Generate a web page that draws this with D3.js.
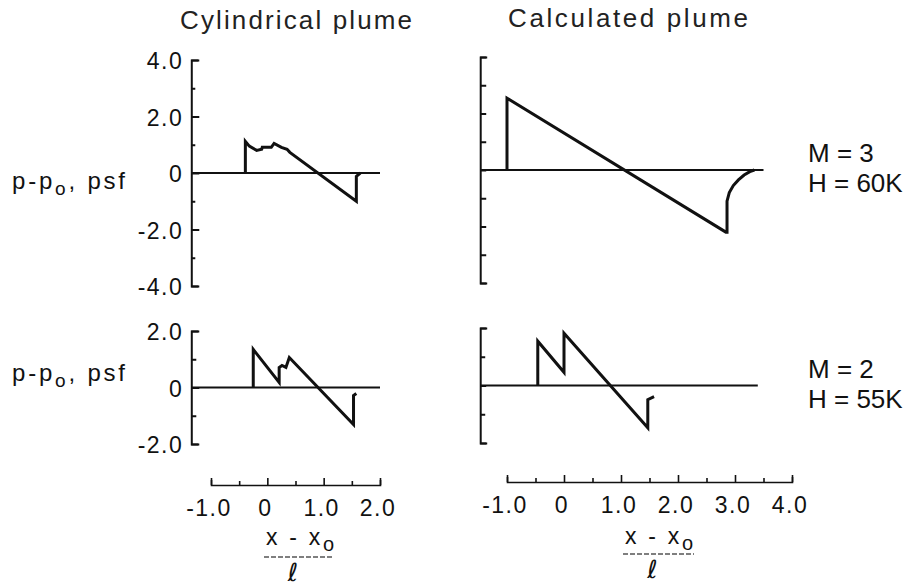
<!DOCTYPE html>
<html>
<head>
<meta charset="utf-8">
<script src="https://cdn.jsdelivr.net/npm/d3@7"></script>
<style>
body { margin: 0; background: #fff; }
svg { display: block; font-family: "Liberation Sans", Arial, sans-serif; }
</style>
</head>
<body>
<div id="chart"></div>
<script>
// panel titles and flight conditions
const titles = ["Cylindrical plume", "Calculated plume"];
const conditionsTop = ["M = 3", "H = 60K"];
const conditionsBottom = ["M = 2", "H = 55K"];

// y ticks
const yMajorTop = [-4, -2, 0, 2, 4];
const yMinorTop = [-3, -1, 1, 3];
const yLabelsTop = ["-4.0", "-2.0", "0", "2.0", "4.0"];
const yMajorBottom = [-2, 0, 2];
const yMinorBottom = [-1, 1];
const yLabelsBottom = ["-2.0", "0", "2.0"];

// x ticks
const xMajorLeft = [-1, 0, 1, 2];
const xMinorLeft = [-0.5, 0.5, 1.5];
const xLabelsLeft = ["-1.0", "0", "1.0", "2.0"];
const xMajorRight = [-1, 0, 1, 2, 3, 4];
const xMinorRight = [-0.5, 0.5, 1.5, 2.5, 3.5];
const xLabelsRight = ["-1.0", "0", "1.0", "2.0", "3.0", "4.0"];

// pressure signatures [(x - x0)/l, p - p0 (psf)]
const cylM3 = [[-0.39, 0], [-0.39, 1.12], [-0.32, 0.95], [-0.19, 0.80], [-0.1, 0.84], [-0.09, 0.91],
  [0.07, 0.91], [0.12, 1.05], [0.25, 0.91], [0.35, 0.84], [0.4, 0.73], [1.58, -1.0], [1.58, -0.12], [1.65, 0]];
const calcM3 = [[-1.0, 0], [-1.0, 2.54], [2.84, -2.2], [2.86, -2.2], [2.86, -1.1], [2.9, -0.8], [2.97, -0.55],
  [3.06, -0.35], [3.16, -0.18], [3.26, -0.06], [3.34, 0]];
const cylM2 = [[-0.25, 0], [-0.25, 1.35], [0.21, 0.18], [0.21, 0.71], [0.26, 0.78], [0.33, 0.71], [0.39, 1.06],
  [1.53, -1.31], [1.53, -0.28], [1.58, -0.21]];
const calcM2 = [[-0.46, 0], [-0.46, 1.54], [0.0, 0.46], [0.0, 1.82], [1.47, -1.47], [1.47, -0.49], [1.58, -0.39]];

// where the zero line stops for each panel
const zeroEnds = [2.0, 3.5, 2.0, 3.4];

const ink = '#111';
const fontSans = '"Liberation Sans", Arial, sans-serif';
const svg = d3.select('#chart').append('svg')
  .attr('width', 915)
  .attr('height', 587);

const xLeft = d3.scaleLinear().domain([-1, 2]).range([211, 380]);
const xRight = d3.scaleLinear().domain([-1, 4]).range([507, 792]);
const yTL = d3.scaleLinear().domain([-4, 4]).range([286, 60]);
const yTR = d3.scaleLinear().domain([-4, 4]).range([283, 57]);
const yBL = d3.scaleLinear().domain([-2, 2]).range([444, 331]);
const yBR = d3.scaleLinear().domain([-2, 2]).range([443, 328]);
// the vertical axes sit a bit left of the first x tick
const yAxisLeftAt = -1.35, yAxisRightAt = -1.47;

function styleAxis(g, w) {
  g.selectAll('path, line').attr('stroke', ink).attr('stroke-width', w);
}

function drawYAxis(x, at, y, major, minor, majorLen, minorLen, labels) {
  let g = svg.append('g').attr('transform', `translate(${x(at)},0)`);
  g.append('g')
    .call(d3.axisRight(y).tickValues(major).tickSizeInner(majorLen).tickSizeOuter(7).tickFormat(''))
    .call(a => styleAxis(a, 2));
  g.append('g')
    .call(d3.axisRight(y).tickValues(minor).tickSize(minorLen).tickFormat(''))
    .call(a => a.select('.domain').remove())
    .call(a => styleAxis(a, 2));
  if (labels) {
    g.selectAll('text.ylab').data(major).enter()
      .append('text')
      .attr('class', 'ylab')
      .attr('x', -8)
      .attr('y', d => y(d) + 9)
      .attr('text-anchor', 'end')
      .attr('font-family', fontSans)
      .attr('font-size', 23)
      .attr('letter-spacing', 1.5)
      .attr('fill', ink)
      .text((d, i) => labels[i]);
  }
}

function drawXAxis(x, yPos, major, minor, labels) {
  let g = svg.append('g').attr('transform', `translate(0,${yPos})`);
  g.append('g')
    .call(d3.axisTop(x).tickValues(major).tickSizeInner(7).tickSizeOuter(5).tickFormat(''))
    .call(a => styleAxis(a, 1.6));
  g.append('g')
    .call(d3.axisTop(x).tickValues(minor).tickSize(4).tickFormat(''))
    .call(a => a.select('.domain').remove())
    .call(a => styleAxis(a, 1.6));
  g.selectAll('text.xlab').data(major).enter()
    .append('text')
    .attr('class', 'xlab')
    .attr('x', d => x(d) - 2)
    .attr('y', 31)
    .attr('text-anchor', 'middle')
    .attr('font-family', fontSans)
    .attr('font-size', 23)
    .attr('letter-spacing', 1.5)
    .attr('fill', ink)
    .text((d, i) => labels[i]);
}

function drawSignal(x, y, data, at, zeroEnd) {
  // zero line
  svg.append('path')
    .attr('d', d3.line()([[x(at), y(0)], [x(zeroEnd), y(0)]]))
    .attr('stroke', ink)
    .attr('stroke-width', 2.2)
    .attr('fill', 'none');
  svg.append('path')
    .datum(data)
    .attr('d', d3.line().x(d => x(d[0])).y(d => y(d[1])))
    .attr('stroke', ink)
    .attr('stroke-width', 3)
    .attr('stroke-linejoin', 'miter')
    .attr('fill', 'none');
}

// axes
drawYAxis(xLeft, yAxisLeftAt, yTL, yMajorTop, yMinorTop, 8, 4, yLabelsTop);
drawYAxis(xRight, yAxisRightAt, yTR, yMajorTop, yMinorTop, 6, 6, null);
drawYAxis(xLeft, yAxisLeftAt, yBL, yMajorBottom, yMinorBottom, 8, 5, yLabelsBottom);
drawYAxis(xRight, yAxisRightAt, yBR, yMajorBottom, yMinorBottom, 6, 5, null);

drawXAxis(xLeft, 485, xMajorLeft, xMinorLeft, xLabelsLeft);
drawXAxis(xRight, 482, xMajorRight, xMinorRight, xLabelsRight);

// signatures
drawSignal(xLeft, yTL, cylM3, yAxisLeftAt, zeroEnds[0]);
drawSignal(xRight, yTR, calcM3, yAxisRightAt, zeroEnds[1]);
drawSignal(xLeft, yBL, cylM2, yAxisLeftAt, zeroEnds[2]);
drawSignal(xRight, yBR, calcM2, yAxisRightAt, zeroEnds[3]);

// titles
svg.append('text').attr('x', 180).attr('y', 29).attr('font-size', 26).attr('fill', '#222')
  .attr('textLength', 232).attr('lengthAdjust', 'spacing').text(titles[0]);
svg.append('text').attr('x', 508).attr('y', 27).attr('font-size', 26).attr('fill', '#222')
  .attr('textLength', 240).attr('lengthAdjust', 'spacing').text(titles[1]);

// y axis titles
[189, 381].forEach(function (base) {
  let t = svg.append('text').attr('x', 12).attr('y', base).attr('font-size', 24).attr('fill', ink)
    .attr('textLength', 113).attr('lengthAdjust', 'spacing');
  t.append('tspan').text('p-p');
  t.append('tspan').attr('font-size', 19).attr('dy', 6).text('o');
  t.append('tspan').attr('dy', -6).text(', psf');
});

// conditions
[[conditionsTop, 162], [conditionsBottom, 378]].forEach(function (c) {
  c[0].forEach(function (s, i) {
    svg.append('text').attr('x', 808).attr('y', c[1] + i * 30)
      .attr('font-size', 26).attr('fill', ink).text(s);
  });
});

// x axis titles: (x - x0) / l
[[300, 545, 557, 264, 334], [659, 544, 554, 623, 694]].forEach(function (p) {
  let t = svg.append('text').attr('x', p[0]).attr('y', p[1]).attr('text-anchor', 'middle')
    .attr('font-size', 23).attr('fill', ink).attr('textLength', 68).attr('lengthAdjust', 'spacing');
  t.append('tspan').text('x - x');
  t.append('tspan').attr('font-size', 20).attr('dy', 6).text('o');
  svg.append('line').attr('x1', p[3]).attr('x2', p[4]).attr('y1', p[2]).attr('y2', p[2])
    .attr('stroke', '#555').attr('stroke-width', 1.5).attr('stroke-dasharray', '5,2');
  svg.append('text').attr('x', (p[3] + p[4]) / 2 - 6).attr('y', p[2] + 24)
    .attr('text-anchor', 'middle').attr('font-size', 25).attr('font-style', 'italic')
    .attr('font-family', '"DejaVu Serif", "DejaVu Sans", serif').attr('fill', ink).text('\u2113');
});
</script>
</body>
</html>
